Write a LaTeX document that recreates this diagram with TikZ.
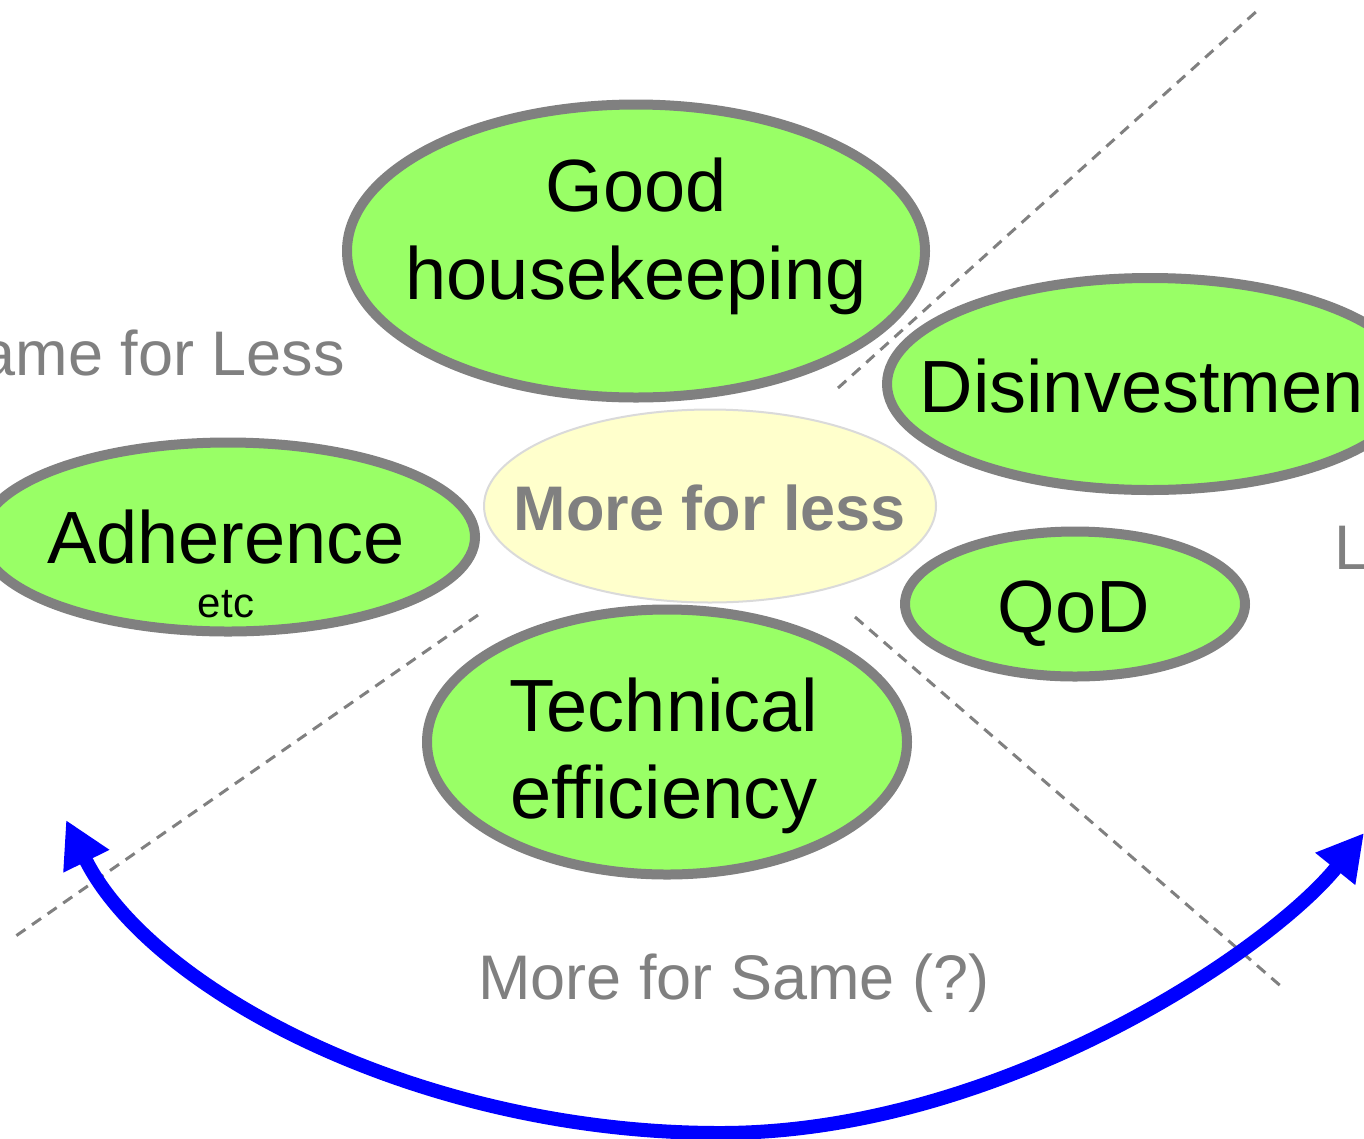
\documentclass[tikz,border=0pt]{standalone}
\usepackage{fontspec}
\setmainfont{Liberation Sans}
\usetikzlibrary{shapes.geometric,arrows.meta}
\definecolor{leaf}{HTML}{99FF66}
\definecolor{rim}{HTML}{808080}
\definecolor{cream}{HTML}{FFFFCC}
\definecolor{creamrim}{HTML}{DADADA}
\tikzset{
  blob/.style={ellipse, draw=rim, line width=10pt, fill=leaf, inner sep=0pt},
  core/.style={ellipse, draw=creamrim, line width=2pt, fill=cream, inner sep=0pt},
  big/.style={font=\fontsize{74}{89}\selectfont, anchor=base, inner sep=0pt, text=black},
  small/.style={font=\fontsize{42}{50}\selectfont, anchor=base, inner sep=0pt, text=black},
  zone/.style={font=\fontsize{63}{75}\selectfont, text=rim, inner sep=0pt},
  divider/.style={draw=rim, line width=3pt, dash pattern=on 11pt off 8pt},
  swing/.style={draw=blue, line width=14pt, {Triangle[length=46pt,width=48pt]}-{Triangle[length=46pt,width=48pt]}}
}
\begin{document}
\begin{tikzpicture}[x=1pt,y=-1pt]
\useasboundingbox (0,0) rectangle (1364,1138);
\clip (0,0) rectangle (1364,1138);
% dividers
\coordinate (d1a) at (838,388); \coordinate (d1b) at (1258,10);
\coordinate (d2a) at (478,615); \coordinate (d2b) at (10,940);
\coordinate (d3a) at (855,617); \coordinate (d3b) at (1283,988);
\draw[divider] (d1a) -- (d1b);
\draw[divider] (d2a) -- (d2b);
\draw[divider] (d3a) -- (d3b);
% ellipses
\node[blob, minimum width=578pt, minimum height=293pt] (gh) at (636,251) {};
\node[blob, minimum width=526pt, minimum height=212pt] (dis) at (1150,384) {};
\node[blob, minimum width=494pt, minimum height=189pt] (adh) at (228,537) {};
\node[core, minimum width=452pt, minimum height=193pt] (mfl) at (710,506) {};
\node[blob, minimum width=340pt, minimum height=145pt] (qod) at (1075,604) {};
\node[blob, minimum width=480pt, minimum height=265pt] (te) at (667,742) {};
% texts
\node[big] (t1) at (636,211) {Good};
\node[big] (t2) at (636,299) {housekeeping};
\node[big] (t3) at (1152,412) {Disinvestment};
\node[big] (t4) at (226,563) {Adherence};
\node[small] (t5) at (226,617) {etc};
\node[anchor=base, inner sep=0pt, text=rim, font=\fontsize{63}{75}\selectfont\bfseries] (t6) at (710,530) {More for less};
\node[big] (t7) at (1074,632) {QoD};
\node[big] (t8) at (664,731) {Technical};
\node[big] (t9) at (664,818) {efficiency};
\node[zone, anchor=base] (z1) at (734,999) {More for Same (?)};
\node[zone, anchor=base east] (z2) at (345,375) {ame for Less};
\node[zone, anchor=base west] (z3) at (1334,569) {L};
% arrow
\coordinate (la) at (66,820);
\coordinate (lo) at (720,1133);
\coordinate (ra) at (1364,833);
\draw[swing] (la) .. controls (150,990) and (420,1133) .. (lo)
  .. controls (1000,1133) and (1270,950) .. (ra);
\end{tikzpicture}
\end{document}
